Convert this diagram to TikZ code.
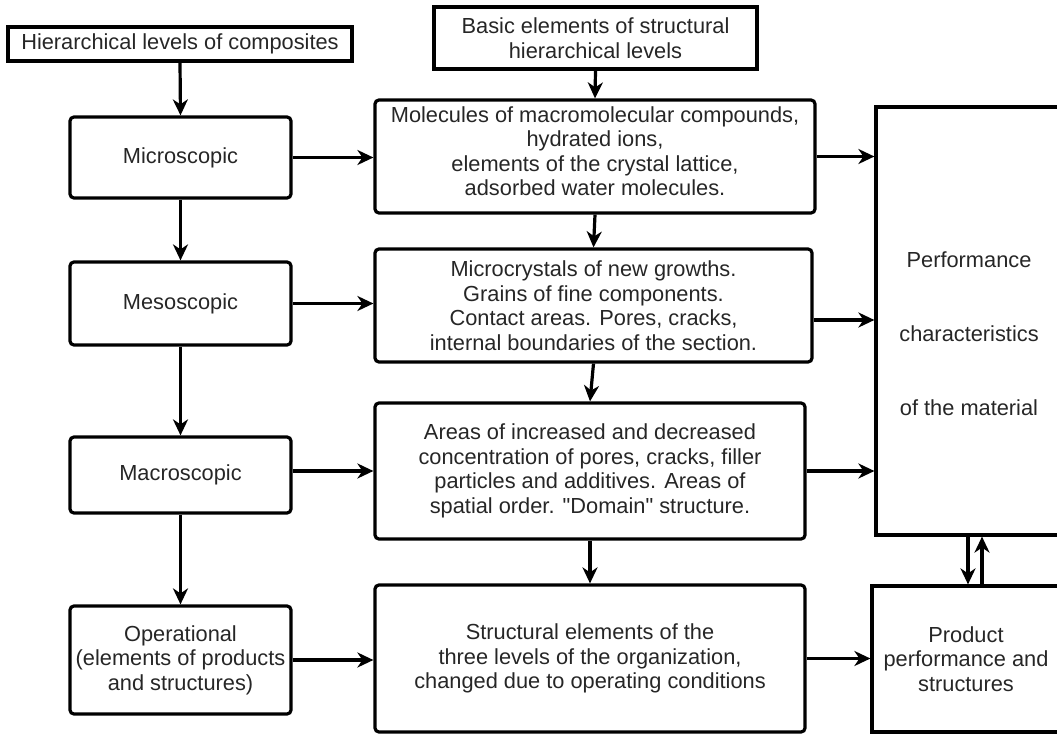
\documentclass[tikz,border=0pt]{standalone}
\usepackage{fontspec}
\setmainfont{Liberation Sans}[Ligatures=TeXOff]
\usetikzlibrary{arrows.meta}
\begin{document}
\begin{tikzpicture}[x=1pt,y=-1pt,
  every node/.style={font=\fontsize{21.8}{24.5}\selectfont, align=center, inner sep=0pt, text=black!85},
  sqbox/.style={draw=black, line width=3.2pt, rectangle},
  rbox/.style={draw=black, line width=3.2pt, rectangle, rounded corners=4pt},
  arr/.style={line width=3.2pt, -{Stealth[length=16pt,width=15pt,inset=5pt]}}]
\useasboundingbox (0,0) rectangle (1057,735);
% top boxes
\node[sqbox, minimum width=344pt, minimum height=34pt] (hier) at (180,44) {Hierarchical levels of composites};
\node[sqbox, minimum width=323pt, minimum height=62pt] (basic) at (595.5,38) {Basic elements of structural\\hierarchical levels};
% left column
\node[rbox, minimum width=221pt, minimum height=81pt] (micro) at (180.5,157.5) {Microscopic};
\node[rbox, minimum width=221pt, minimum height=83pt] (meso) at (180.5,303.5) {Mesoscopic};
\node[rbox, minimum width=221pt, minimum height=76pt] (macro) at (180.5,475) {Macroscopic};
\node[rbox, minimum width=221pt, minimum height=108pt] (oper) at (180.5,660) {Operational\\(elements of products\\and structures)};
% middle column
\node[rbox, minimum width=440pt, minimum height=113pt] (mol) at (595,156.5) {};
\node (moltext) at (595,151) {Molecules of macromolecular compounds,\\hydrated ions,\\elements of the crystal lattice,\\adsorbed water molecules.};
\node[rbox, minimum width=437pt, minimum height=113pt] (mc) at (593.5,305.5) {Microcrystals of new growths.\\Grains of fine components.\\Contact areas. Pores, cracks,\\internal boundaries of the section.};
\node[rbox, minimum width=430pt, minimum height=136pt] (areas) at (590,471) {Areas of increased and decreased\\concentration of pores, cracks, filler\\particles and additives. Areas of\\spatial order. "Domain" structure.};
\node[rbox, minimum width=430pt, minimum height=147pt] (struct) at (590,658.5) {Structural elements of the\\three levels of the organization,\\changed due to operating conditions};
% right column
\node[sqbox, minimum width=186pt, minimum height=428pt] (perf) at (969,321) {};
\node (perftext) at (969,334) {Performance\\[49.5pt]characteristics\\[49.5pt]of the material};
\node[sqbox, minimum width=188pt, minimum height=146pt] (prod) at (966,659) {Product\\performance and\\structures};
% arrows
\draw[arr] (hier.south) -- (micro.north);
\draw[arr] (basic.south) -- (mol.north);
\draw[arr] (micro.south) -- (meso.north);
\draw[arr] (meso.south) -- (macro.north);
\draw[arr] (macro.south) -- (oper.north);
\draw[arr] (mol.south) -- (mc.north);
\draw[arr] (mc.south) -- (areas.north);
\draw[arr] (areas.south) -- (struct.north);
\draw[arr] (micro.east) -- (micro.east -| mol.west);
\draw[arr] (meso.east) -- (meso.east -| mc.west);
\draw[arr] (macro.east |- areas.west) -- (areas.west);
\draw[arr] (oper.east) -- (oper.east -| struct.west);
\draw[arr] (mol.east) -- (mol.east -| perf.west);
\coordinate (mcout) at ([yshift=-14.5pt]mc.east);
\draw[arr] (mcout) -- (mcout -| perf.west);
\draw[arr] (areas.east) -- (areas.east -| perf.west);
\draw[arr] (struct.east) -- (struct.east -| prod.west);
\coordinate (dnx) at (968,0);
\coordinate (upx) at (982,0);
\draw[arr] (dnx |- perf.south) -- (dnx |- prod.north);
\draw[arr] (upx |- prod.north) -- (upx |- perf.south);
\end{tikzpicture}
\end{document}
